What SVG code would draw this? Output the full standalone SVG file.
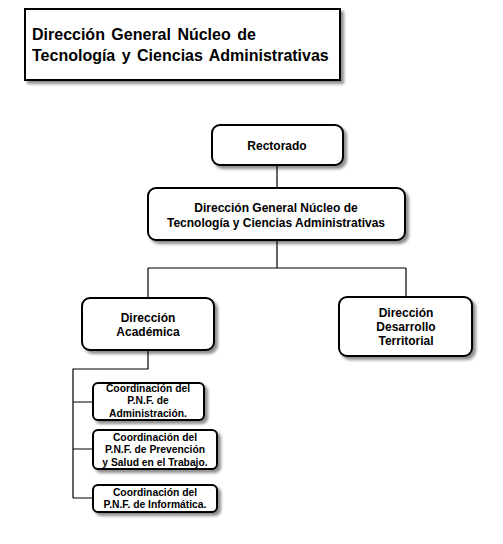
<svg xmlns="http://www.w3.org/2000/svg" width="503" height="544" viewBox="0 0 503 544">
<defs>
<filter id="sh" x="-10%" y="-10%" width="130%" height="140%">
<feGaussianBlur in="SourceAlpha" stdDeviation="1.5"/>
<feOffset dx="2.5" dy="2.5" result="b"/>
<feComponentTransfer><feFuncA type="linear" slope="0.45"/></feComponentTransfer>
<feMerge><feMergeNode/><feMergeNode in="SourceGraphic"/></feMerge>
</filter>
</defs>
<style>
.box{fill:#fff;stroke:#000;stroke-width:2;filter:url(#sh)}
.t{font-family:"Liberation Sans",Arial,sans-serif;font-weight:bold;fill:#000;text-anchor:middle}
.m{font-size:12px}
.s{font-size:10.3px}
.h{font-size:16px;text-anchor:start;word-spacing:2px}
.c{fill:none;stroke:#000;stroke-width:1.2}
</style>
<rect width="503" height="544" fill="#fff"/>
<g id="title">
<rect class="box" x="25" y="9" width="315" height="71"/>
<text class="t h" x="32" y="40">Dirección General Núcleo de</text>
<text class="t h" x="32" y="61">Tecnología y Ciencias Administrativas</text>
</g>
<g id="connectors">
<path class="c" d="M277 165V188M277 240V268M148 268H406M148 268V298M406 268V297M148 350V369H73V498M73 402H93M73 449H93M73 498H93"/>
</g>
<g id="rectorado">
<rect class="box" x="212" y="125" width="131" height="40" rx="8"/>
<text class="t m" x="277" y="150">Rectorado</text>
</g>
<g id="direccion-general">
<rect class="box" x="148" y="188" width="257" height="52" rx="8"/>
<text class="t m" x="276" y="212">Dirección General Núcleo de</text>
<text class="t m" x="276" y="227">Tecnología y Ciencias Administrativas</text>
</g>
<g id="direccion-academica">
<rect class="box" x="82" y="298" width="132" height="52" rx="8"/>
<text class="t m" x="148" y="322">Dirección</text>
<text class="t m" x="148" y="336">Académica</text>
</g>
<g id="direccion-desarrollo">
<rect class="box" x="339" y="297" width="133" height="59" rx="8"/>
<text class="t m" x="406" y="317">Dirección</text>
<text class="t m" x="406" y="331">Desarrollo</text>
<text class="t m" x="406" y="345">Territorial</text>
</g>
<g id="coord-administracion">
<rect class="box" x="93" y="383" width="111" height="37" rx="5"/>
<text class="t s" x="148" y="392">Coordinación del</text>
<text class="t s" x="148" y="404">P.N.F. de</text>
<text class="t s" x="148" y="417">Administración.</text>
</g>
<g id="coord-prevencion">
<rect class="box" x="93" y="430" width="124" height="39" rx="5"/>
<text class="t s" x="155" y="441">Coordinación del</text>
<text class="t s" x="155" y="453">P.N.F. de Prevención</text>
<text class="t s" x="155" y="466">y Salud en el Trabajo.</text>
</g>
<g id="coord-informatica">
<rect class="box" x="93" y="485" width="124" height="27" rx="5"/>
<text class="t s" x="155" y="496">Coordinación del</text>
<text class="t s" x="155" y="508">P.N.F. de Informática.</text>
</g>
</svg>
